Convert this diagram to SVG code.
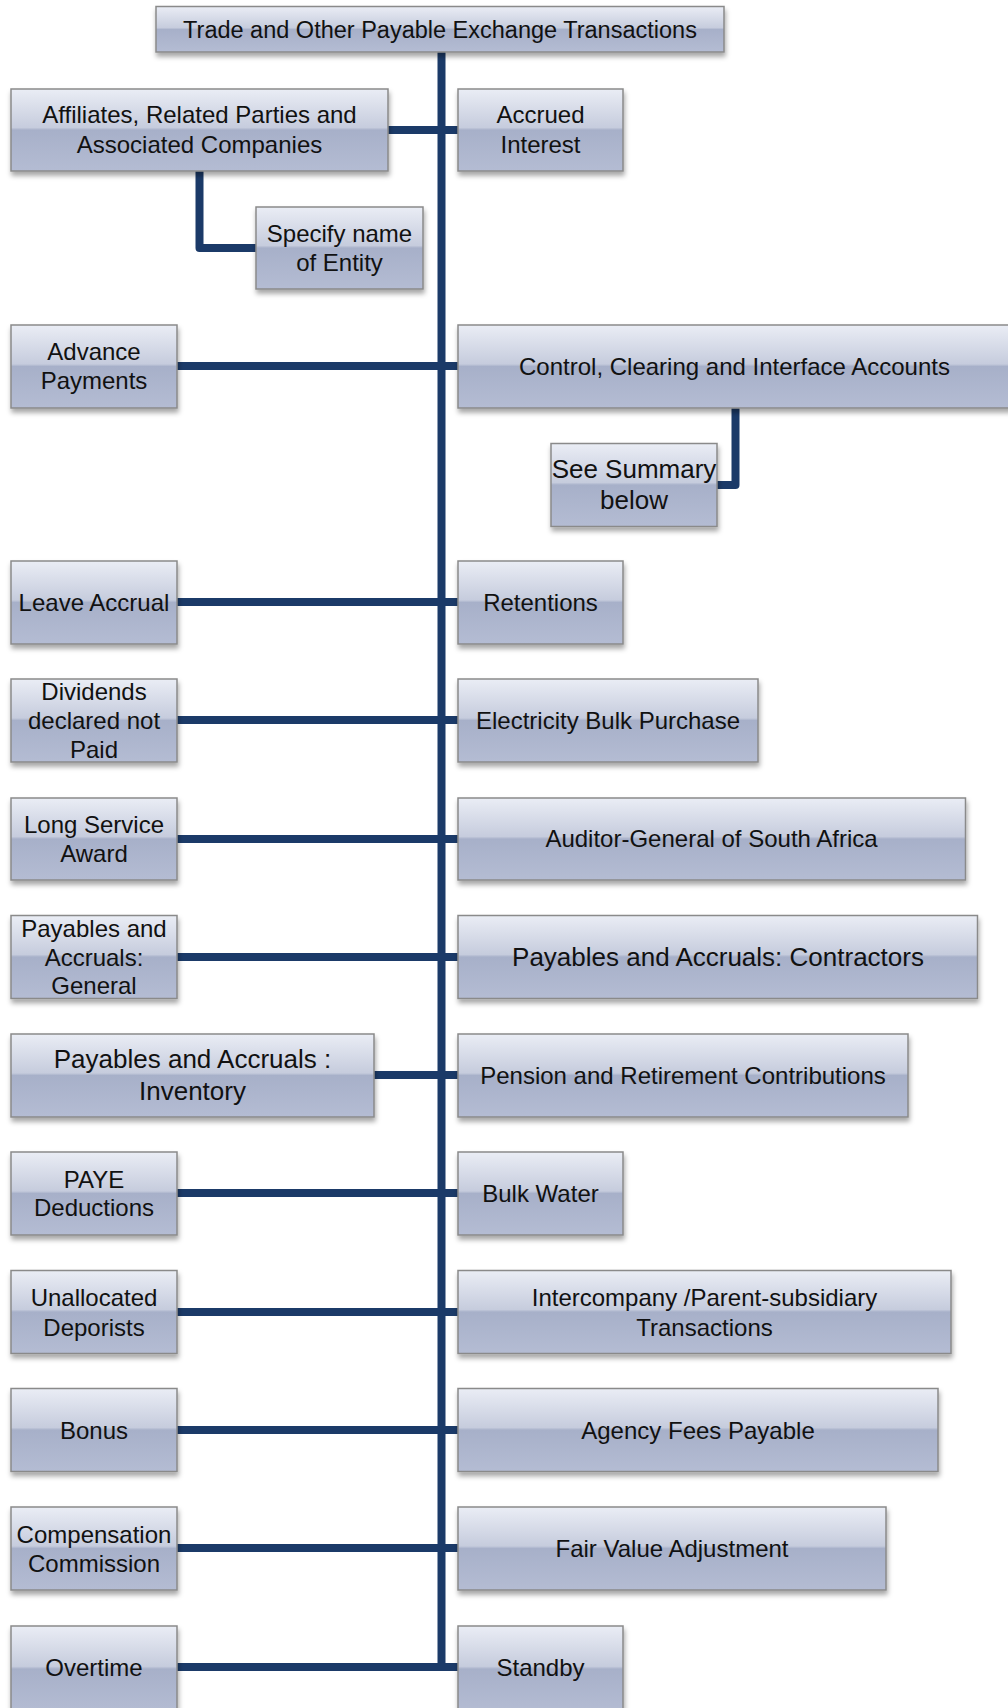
<svg xmlns="http://www.w3.org/2000/svg" width="1008" height="1708" viewBox="0 0 1008 1708">
<defs>
  <linearGradient id="boxFill" x1="0" y1="0" x2="0" y2="1">
    <stop offset="0" stop-color="#eaedf5"/>
    <stop offset="0.47" stop-color="#c6ccdd"/>
    <stop offset="0.5" stop-color="#a7b0c9"/>
    <stop offset="1" stop-color="#b4bcd3"/>
  </linearGradient>
  <filter id="shadow" x="-10%" y="-20%" width="120%" height="150%">
    <feDropShadow dx="1" dy="4" stdDeviation="2.5" flood-color="#000" flood-opacity="0.35"/>
  </filter>
</defs>
<style>
  .box { fill: url(#boxFill); stroke: #8a8a8a; stroke-width: 1.5; filter: url(#shadow); }
  .lbl { font-family: "Liberation Sans", Arial, sans-serif; font-size: 24px; fill: #111; text-anchor: middle; }
  .big { font-size: 26px; }
  .conn { stroke: #1b3a68; stroke-width: 8; fill: none; stroke-linejoin: round; }
</style>
<rect width="1008" height="1708" fill="#fff"/>

<g id="connectors">
  <line class="conn" x1="441.5" y1="52" x2="441.5" y2="1671"/>
  <line class="conn" x1="388" y1="130" x2="458" y2="130"/>
  <path class="conn" d="M199.5 171 V248 H256"/>
  <line class="conn" x1="177" y1="366" x2="458" y2="366"/>
  <path class="conn" d="M735.5 408 V485 H717"/>
  <line class="conn" x1="177" y1="602" x2="458" y2="602"/>
  <line class="conn" x1="177" y1="720" x2="458" y2="720"/>
  <line class="conn" x1="177" y1="839" x2="458" y2="839"/>
  <line class="conn" x1="177" y1="957" x2="458" y2="957"/>
  <line class="conn" x1="374" y1="1075" x2="458" y2="1075"/>
  <line class="conn" x1="177" y1="1193" x2="458" y2="1193"/>
  <line class="conn" x1="177" y1="1312" x2="458" y2="1312"/>
  <line class="conn" x1="177" y1="1430" x2="458" y2="1430"/>
  <line class="conn" x1="177" y1="1548" x2="458" y2="1548"/>
  <line class="conn" x1="177" y1="1667" x2="458" y2="1667"/>
</g>

<g id="n-root"><rect class="box" x="156" y="6.5" width="568" height="45.5"/>
  <text class="lbl" x="440" y="38" style="font-size:23.5px">Trade and Other Payable Exchange Transactions</text></g>

<g id="n-affiliates"><rect class="box" x="11" y="89" width="377" height="82"/>
  <text class="lbl" x="199.5" y="123">Affiliates, Related Parties and</text>
  <text class="lbl" x="199.5" y="152.5">Associated Companies</text></g>
<g id="n-accrued"><rect class="box" x="458" y="89" width="165" height="82"/>
  <text class="lbl" x="540.5" y="123">Accrued</text>
  <text class="lbl" x="540.5" y="152.5">Interest</text></g>
<g id="n-specify"><rect class="box" x="256" y="207" width="167" height="82"/>
  <text class="lbl" x="339.5" y="241.5">Specify name</text>
  <text class="lbl" x="339.5" y="271">of Entity</text></g>

<g id="n-advance"><rect class="box" x="11" y="325" width="166" height="83"/>
  <text class="lbl" x="94" y="359.5">Advance</text>
  <text class="lbl" x="94" y="388.5">Payments</text></g>
<g id="n-control"><rect class="box" x="458" y="325" width="553" height="83"/>
  <text class="lbl" x="734.5" y="374.5">Control, Clearing and Interface Accounts</text></g>
<g id="n-summary"><rect class="box" x="551" y="443.5" width="166" height="83"/>
  <text class="lbl big" x="634" y="477.5">See Summary</text>
  <text class="lbl big" x="634" y="509">below</text></g>

<g id="n-leave"><rect class="box" x="11" y="561" width="166" height="83"/>
  <text class="lbl" x="94" y="610.5">Leave Accrual</text></g>
<g id="n-retentions"><rect class="box" x="458" y="561" width="165" height="83"/>
  <text class="lbl" x="540.5" y="610.5">Retentions</text></g>

<g id="n-dividends"><rect class="box" x="11" y="679" width="166" height="83"/>
  <text class="lbl" x="94" y="699.5">Dividends</text>
  <text class="lbl" x="94" y="728.5">declared not</text>
  <text class="lbl" x="94" y="758">Paid</text></g>
<g id="n-electricity"><rect class="box" x="458" y="679" width="300" height="83"/>
  <text class="lbl" x="608" y="728.5">Electricity Bulk Purchase</text></g>

<g id="n-longservice"><rect class="box" x="11" y="798" width="166" height="82"/>
  <text class="lbl" x="94" y="832.5">Long Service</text>
  <text class="lbl" x="94" y="861.5">Award</text></g>
<g id="n-auditor"><rect class="box" x="458" y="798" width="507.5" height="82"/>
  <text class="lbl" x="711.5" y="847">Auditor-General of South Africa</text></g>

<g id="n-general"><rect class="box" x="11" y="915.5" width="166" height="83"/>
  <text class="lbl" x="94" y="937">Payables and</text>
  <text class="lbl" x="94" y="966">Accruals:</text>
  <text class="lbl" x="94" y="994">General</text></g>
<g id="n-contractors"><rect class="box" x="458" y="915.5" width="519.5" height="83"/>
  <text class="lbl big" x="718" y="966">Payables and Accruals: Contractors</text></g>

<g id="n-inventory"><rect class="box" x="11" y="1034" width="363" height="83"/>
  <text class="lbl big" x="192.5" y="1068">Payables and Accruals :</text>
  <text class="lbl big" x="192.5" y="1100">Inventory</text></g>
<g id="n-pension"><rect class="box" x="458" y="1034" width="450" height="83"/>
  <text class="lbl" x="683" y="1083.5">Pension and Retirement Contributions</text></g>

<g id="n-paye"><rect class="box" x="11" y="1152" width="166" height="83"/>
  <text class="lbl" x="94" y="1187.5">PAYE</text>
  <text class="lbl" x="94" y="1216">Deductions</text></g>
<g id="n-bulkwater"><rect class="box" x="458" y="1152" width="165" height="83"/>
  <text class="lbl" x="540.5" y="1201.5">Bulk Water</text></g>

<g id="n-unallocated"><rect class="box" x="11" y="1270.5" width="166" height="83"/>
  <text class="lbl" x="94" y="1305.5">Unallocated</text>
  <text class="lbl" x="94" y="1335.5">Deporists</text></g>
<g id="n-intercompany"><rect class="box" x="458" y="1270.5" width="493" height="83"/>
  <text class="lbl" x="704.5" y="1305.5">Intercompany /Parent-subsidiary</text>
  <text class="lbl" x="704.5" y="1335.5">Transactions</text></g>

<g id="n-bonus"><rect class="box" x="11" y="1388.5" width="166" height="83"/>
  <text class="lbl" x="94" y="1438.5">Bonus</text></g>
<g id="n-agency"><rect class="box" x="458" y="1388.5" width="480" height="83"/>
  <text class="lbl" x="698" y="1438.5">Agency Fees Payable</text></g>

<g id="n-compensation"><rect class="box" x="11" y="1507" width="166" height="83"/>
  <text class="lbl" x="94" y="1542.5">Compensation</text>
  <text class="lbl" x="94" y="1572">Commission</text></g>
<g id="n-fairvalue"><rect class="box" x="458" y="1507" width="428" height="83"/>
  <text class="lbl" x="672" y="1557">Fair Value Adjustment</text></g>

<g id="n-overtime"><rect class="box" x="11" y="1626" width="166" height="86"/>
  <text class="lbl" x="94" y="1675.5">Overtime</text></g>
<g id="n-standby"><rect class="box" x="458" y="1626" width="165" height="86"/>
  <text class="lbl" x="540.5" y="1675.5">Standby</text></g>
</svg>
